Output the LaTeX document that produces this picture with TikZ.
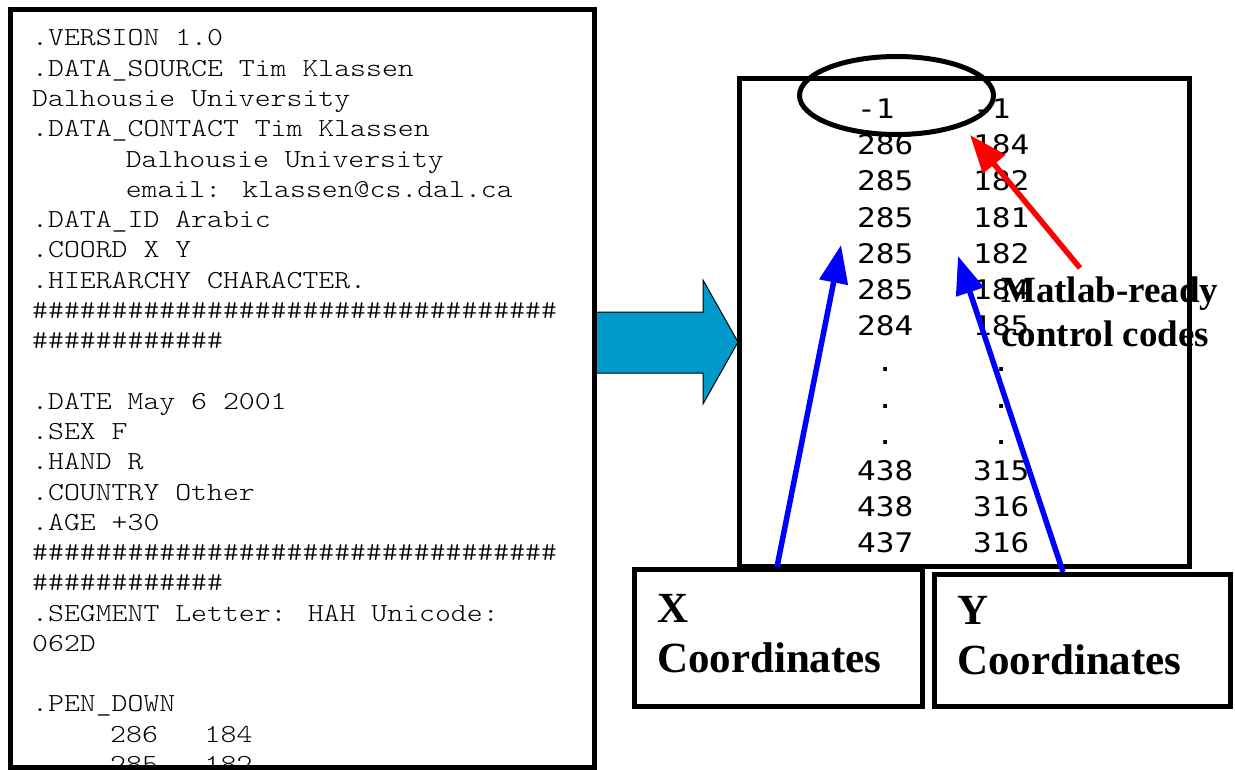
\documentclass[tikz,border=0pt]{standalone}
\usepackage{fontspec}
\setmainfont{Liberation Serif}
\newfontfamily\srcfont[FakeStretch=1.165]{lmmonolt10-regular.otf}
\newfontfamily\numfont[FakeStretch=1.15]{DejaVu Sans Mono}
\usetikzlibrary{positioning,arrows.meta,shapes.geometric}
\definecolor{flow}{RGB}{0,153,204}
\newcommand\hashes[1]{\foreach\k in {1,...,#1}{\#}}
\newcommand\dt{\phantom{0}.}

\tikzset{
  frame/.style={draw=black,line width=5bp},
  srcline/.style={anchor=base west,inner sep=0pt,font=\srcfont\fontsize{26bp}{30bp}\selectfont},
  numtxt/.style={anchor=base west,inner sep=0pt,font=\numfont\fontsize{27bp}{32bp}\selectfont},
  tag/.style={frame,fill=white,align=left,inner sep=0pt,text depth=60bp,font=\bfseries\fontsize{43bp}{50bp}\selectfont},
  ptr/.style={line width=5.5bp,-{Triangle[length=38bp,width=28bp]}}
}

\begin{document}
\begin{tikzpicture}[x=1bp,y=-1bp]
    \useasboundingbox (0,0) rectangle (1235,770);
    \fill[white] (0,0) rectangle (1235,770);
    % conversion arrow
    \draw[fill=flow,line width=1bp] (593,312) -- (703,312) -- (703,280) -- (738,342)
        -- (703,404) -- (703,373) -- (593,373) -- cycle;
    % raw unipen file
    \begin{scope}
      \clip (12,12) rectangle (592,765);
      \foreach \txt [count=\i] in {{.VERSION 1.0},{.DATA\_SOURCE Tim Klassen},
          {Dalhousie University},{.DATA\_CONTACT Tim Klassen},
          {\hspace*{3.6em}Dalhousie University},{\hspace*{3.6em}email: klassen@cs.dal.ca},
          {.DATA\_ID Arabic},{.COORD X Y},{.HIERARCHY CHARACTER.},
          {\hashes{33}},{\hashes{12}},{},
          {.DATE May 6 2001},{.SEX F},{.HAND R},{.COUNTRY Other},{.AGE +30},
          {\hashes{33}},{\hashes{12}},
          {.SEGMENT Letter: HAH Unicode:},{062D},{},{.PEN\_DOWN},
          {\hspace*{3em}286\hspace*{1.8em}184},{\hspace*{3em}285\hspace*{1.8em}182}}
        \node[srcline] (src\i) at (32,{46+30.27*(\i-1)}) {\txt};
    \end{scope}
    \draw[frame] (10,10) rectangle (594.5,767.5);
    % matlab data
    \draw[frame] (739.5,78.5) rectangle (1189.5,566);
    \foreach \xa/\ya [count=\i] in {-1/-1,286/184,285/182,285/181,285/182,285/184,284/185,
        \dt/\dt,\dt/\dt,\dt/\dt,438/315,438/316,437/316}
      {\node[numtxt] (xa\i) at (857,{118.5+36.2*(\i-1)}) {\xa};
       \node[numtxt] (ya\i) at (973,{118.5+36.2*(\i-1)}) {\ya};}
    \node[draw,ellipse,line width=5bp,minimum width=194bp,minimum height=78bp,inner sep=0pt]
        (ctrl) at (896.5,95.5) {};
    \node[anchor=base west,inner sep=0pt,align=left,font=\bfseries\fontsize{37bp}{44bp}\selectfont]
        (matlab) at (1001,346) {Matlab-ready\\control codes};
    \node[tag,minimum width=288bp,minimum height=137bp,text width=243bp] (xbox) at (778.5,638) {X\\Coordinates};
    \node[tag,minimum width=296bp,minimum height=132bp,text width=251bp] (ybox) at (1082.5,640.5) {Y\\Coordinates};
    % pointers
    \coordinate (redfoot) at (1080,268);
    \coordinate (redtip) at (970,135);
    \coordinate (xtip) at (841,245);
    \coordinate (ytip) at (958,256);
    \draw[ptr,red] (redfoot) -- (redtip);
    \draw[ptr,blue] ([xshift=-1.5bp]xbox.north) -- (xtip);
    \draw[ptr,blue] ([xshift=-19.5bp]ybox.north) -- (ytip);
\end{tikzpicture}
\end{document}
